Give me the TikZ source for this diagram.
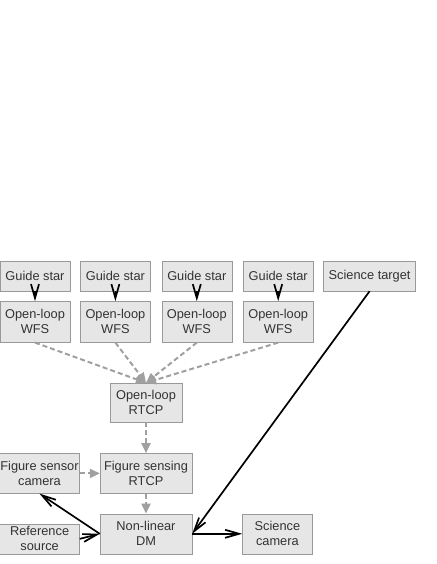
\documentclass[tikz,border=0pt]{standalone}
\usepackage{fontspec}
\setmainfont{Liberation Sans}
\usepackage{tikz}
\usetikzlibrary{positioning,arrows.meta,calc}
\definecolor{boxfill}{HTML}{E6E6E6}
\definecolor{boxline}{HTML}{999999}
\definecolor{ctrlgray}{HTML}{A0A0A0}
\definecolor{txt}{HTML}{333333}

\begin{document}
\begin{tikzpicture}[
    x=1pt, y=1pt,
    node distance=10pt and 10pt,
    box/.style={draw=boxline, fill=boxfill, minimum width=70pt, minimum height=41pt, align=center, inner sep=1pt, text=txt, font=\fontsize{12.8}{15}\selectfont},
    onebox/.style={box, minimum height=30pt},
    ctrl/.style={draw=ctrlgray, line width=2pt, dash pattern=on 5pt off 3pt, -{Triangle[length=10pt,width=9pt,fill=ctrlgray]}},
    beam/.style={draw=black, line width=1.7pt, -{Straight Barb[length=14pt,width=8pt]}},
  ]
    \useasboundingbox (0,0) rectangle (436,-564);
    % guide stars and science target
    \node[onebox] (gs1) at (35,-276) {Guide star};
    \node[onebox, right=10pt of gs1] (gs2) {Guide star};
    \node[onebox, right=11pt of gs2] (gs3) {Guide star};
    \node[onebox, right=11pt of gs3] (gs4) {Guide star};
    \node[onebox, right=10pt of gs4, minimum width=92pt] (scitgt) {Science target};
    % wavefront sensors
    \foreach \i in {1,...,4}{
      \node[box, below=10pt of gs\i] (wfs\i) {Open-loop\\WFS};
      \draw[beam] (gs\i) -- (wfs\i);
    }
    % controllers
    \node[box, minimum width=72pt, minimum height=39pt] (olrtcp) at (146,-402.5) {Open-loop\\RTCP};
    \node[box, minimum width=92pt, minimum height=40pt, below=31pt of olrtcp] (fsrtcp) {Figure sensing\\RTCP};
    \node[box, minimum width=92pt, minimum height=40pt, below=20pt of fsrtcp] (dm) {Non-linear\\DM};
    \node[box, minimum width=80pt, minimum height=40pt, left=20pt of fsrtcp] (fscam) {Figure sensor\\camera};
    \node[box, minimum width=80pt, minimum height=30pt, anchor=south east] (refsrc) at ($(dm.south west)+(-20,0)$) {Reference\\source};
    \node[box, minimum height=40pt, right=50pt of dm] (scicam) {Science\\camera};
    % control paths
    \foreach \i in {1,...,4}
      \draw[ctrl] (wfs\i.south) -- (olrtcp.north);
    \draw[ctrl] (olrtcp) -- (fsrtcp);
    \draw[ctrl] (fscam) -- (fsrtcp);
    \draw[ctrl] (fsrtcp) -- (dm);
    % light paths
    \draw[beam] (scitgt.south) -- (dm.east);
    \draw[beam] (dm.east) -- (scicam.west);
    \draw[beam] (refsrc.east) -- (dm.west);
    \draw[beam] (dm.west) -- (fscam.south);
  \end{tikzpicture}
\end{document}
